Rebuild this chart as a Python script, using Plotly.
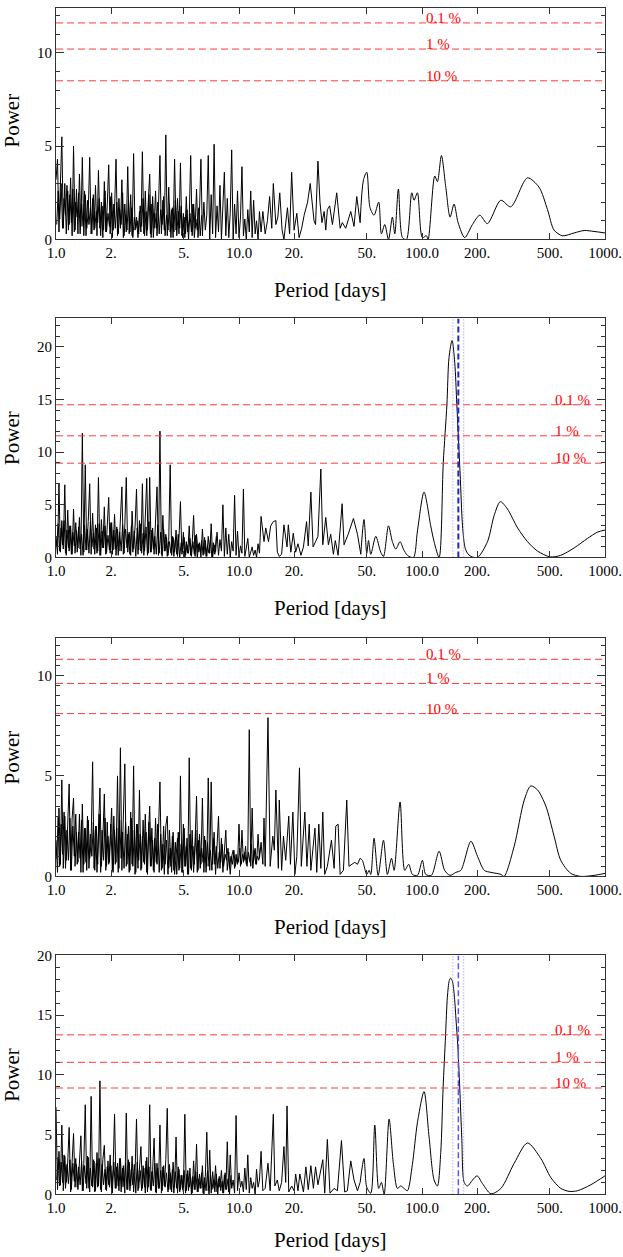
import math
import plotly.graph_objects as go

# period grid (days) for the short-period, noisy part of every periodogram
noise_period = [
    1.000, 1.019, 1.038, 1.057, 1.076, 1.096, 1.117, 1.138, 1.159, 1.180,
    1.202, 1.225, 1.247, 1.271, 1.294, 1.318, 1.343, 1.368, 1.393, 1.419,
    1.445, 1.472, 1.500, 1.528, 1.556, 1.585, 1.614, 1.644, 1.675, 1.706,
    1.738, 1.770, 1.803, 1.837, 1.871, 1.905, 1.941, 1.977, 2.014, 2.051,
    2.089, 2.128, 2.168, 2.208, 2.249, 2.291, 2.333, 2.377, 2.421, 2.466,
    2.512, 2.559, 2.606, 2.655, 2.704, 2.754, 2.805, 2.858, 2.911, 2.965,
    3.020, 3.076, 3.133, 3.192, 3.251, 3.311, 3.373, 3.436, 3.499, 3.565,
    3.631, 3.698, 3.767, 3.837, 3.908, 3.981, 4.055, 4.130, 4.207, 4.285,
    4.365, 4.446, 4.529, 4.613, 4.699, 4.786, 4.875, 4.966, 5.058, 5.152,
    5.248, 5.346, 5.445, 5.546, 5.649, 5.754, 5.861, 5.970, 6.081, 6.194,
    6.310, 6.427, 6.546, 6.668, 6.792, 6.918, 7.047, 7.178, 7.311, 7.447,
    7.586, 7.727, 7.870, 8.017, 8.166, 8.318, 8.472, 8.630, 8.790, 8.954,
    9.120, 9.290, 9.462, 9.638, 9.817, 10.00, 10.19, 10.38, 10.57, 10.76,
    10.96, 11.17, 11.38, 11.59, 11.80, 12.02, 12.25, 12.47, 12.71, 12.94,
]
# in-between periods, for the dense background of the forest
noise_period_b = [
    1.009, 1.028, 1.048, 1.067, 1.086, 1.107, 1.127, 1.148, 1.169, 1.191,
    1.213, 1.236, 1.259, 1.282, 1.306, 1.330, 1.355, 1.380, 1.406, 1.432,
    1.459, 1.486, 1.514, 1.542, 1.570, 1.600, 1.629, 1.660, 1.690, 1.722,
    1.754, 1.786, 1.820, 1.854, 1.888, 1.923, 1.959, 1.995, 2.032, 2.070,
    2.109, 2.148, 2.188, 2.228, 2.270, 2.312, 2.355, 2.399, 2.443, 2.489,
    2.535, 2.582, 2.630, 2.679, 2.729, 2.780, 2.831, 2.884, 2.938, 2.992,
    3.048, 3.105, 3.162, 3.221, 3.281, 3.342, 3.404, 3.467, 3.532, 3.597,
    3.664, 3.733, 3.802, 3.873, 3.945, 4.018, 4.093, 4.169, 4.246, 4.325,
    4.406, 4.487, 4.571, 4.656, 4.742, 4.830, 4.920, 5.012, 5.105, 5.200,
    5.297, 5.395, 5.495, 5.598, 5.702, 5.807, 5.916, 6.026, 6.138, 6.252,
    6.368, 6.486, 6.607, 6.730, 6.855, 6.982, 7.112, 7.244, 7.379, 7.516,
    7.656, 7.798, 7.943, 8.091, 8.241, 8.395, 8.551, 8.710, 8.872, 9.036,
    9.204, 9.376, 9.550, 9.727, 9.908, 10.09, 10.28, 10.47, 10.67, 10.86,
    11.06, 11.27, 11.48, 11.69, 11.91, 12.13, 12.36, 12.59, 12.82, 13.06,
]

# ---- panel 1 ----
p1_noise = [
    3.2, 4.3, 0.4, 2.8, 5.5, 0.6, 3.0, 0.3, 2.6, 0.8,
    3.3, 0.2, 5.0, 0.5, 2.7, 0.3, 3.5, 0.7, 4.4, 0.2,
    2.4, 0.6, 1.4, 4.4, 0.3, 2.2, 0.5, 2.9, 0.2, 3.7,
    0.6, 2.0, 0.1, 3.1, 0.4, 1.8, 4.0, 0.3, 2.5, 0.5,
    1.6, 4.3, 0.2, 2.2, 0.6, 3.2, 0.1, 1.9, 0.4, 3.9,
    0.3, 2.4, 0.2, 4.6, 0.5, 1.2, 0.1, 1.5, 0.4, 4.7,
    0.3, 2.6, 0.2, 2.0, 3.5, 0.1, 2.3, 0.6, 2.6, 0.2,
    1.7, 4.5, 0.3, 2.1, 0.5, 5.6, 0.2, 2.8, 0.4, 1.6,
    0.1, 4.3, 0.5, 2.2, 0.3, 4.1, 0.2, 1.4, 0.1, 2.3,
    0.4, 1.1, 4.5, 0.2, 1.9, 0.6, 2.7, 0.1, 1.5, 4.3,
    0.2, 2.0, 0.5, 1.3, 4.5, 0.0, 2.4, 0.3, 5.1, 0.1,
    1.8, 0.4, 2.9, 0.0, 1.6, 3.6, 0.2, 2.2, 0.1, 1.4,
    4.8, 0.0, 1.9, 0.3, 2.6, 0.1, 1.2, 3.9, 0.2, 1.1,
    0.0, 1.6, 0.4, 2.6, 0.1, 2.1, 0.3, 1.0, 0.0, 1.5,
]
p1_noise_b = [
    0.8, 2.6, 1.1, 3.0, 0.6, 2.2, 1.3, 2.9, 0.5, 2.4,
    0.9, 2.7, 0.4, 2.0, 1.2, 2.5, 0.3, 1.9, 0.7, 2.6,
    0.2, 2.1, 0.8, 1.7, 0.3, 2.4, 0.6, 1.5, 0.9, 2.2,
    0.2, 1.8, 0.5, 2.6, 0.4, 1.4, 0.7, 2.3, 0.1, 1.9,
    0.6, 2.0, 0.3, 1.6, 0.8, 2.5, 0.2, 1.3, 0.5, 2.1,
    0.4, 1.7, 0.1, 1.2, 0.6, 1.0, 0.3, 1.8, 0.7, 2.2,
    0.2, 1.5, 0.5, 2.4, 0.3, 1.9, 0.1, 1.4, 0.6, 2.0,
    0.3, 1.6, 0.8, 2.3, 0.2, 1.3, 0.5, 1.9, 0.1, 1.7,
    0.4, 2.1, 0.2, 1.5, 0.6, 1.8, 0.1, 1.2, 0.3, 1.6,
    0.0, 1.4, 0.4, 1.9, 0.1, 1.1, 0.5, 1.7, 0.2, 1.3,
]
p1_mid = [
    (13.2, 0.4), (13.5, 1.5), (13.9, 0.3), (14.3, 1.0), (14.7, 2.3), (15.1, 0.6),
    (15.4, 3.0), (15.9, 0.8), (16.3, 1.2), (16.7, 2.5), (17.2, 0.5), (17.6, 0.0),
    (18.4, 1.7), (18.9, 0.3), (19.4, 3.6), (20.0, 0.5), (20.7, 1.4), (21.3, 0.1),
    (22.0, 0.6), (22.7, 1.3), (23.7, 2.0), (24.5, 3.0), (25.7, 1.0), (26.2, 0.8),
    (27.0, 4.2), (27.7, 2.0), (28.4, 0.9), (29.2, 1.5), (29.8, 0.5), (30.4, 1.6),
    (31.3, 1.8), (32.4, 0.8), (34.2, 2.5), (35.7, 0.6), (36.7, 0.9), (38.3, 0.6),
    (39.5, 1.1), (40.8, 1.5), (42.5, 0.7), (44.0, 2.3), (45.9, 0.9),
]
p1_long = [
    (45.9, 0.9), (47.9, 3.2), (49.9, 3.6), (52.0, 1.7), (54.7, 1.3), (58.0, 2.0),
    (60.0, 0.3), (62.6, 0.8), (65.6, 0.0), (68.9, 1.2), (71.0, 0.3), (74.3, 2.7),
    (78.2, 0.1), (82.2, 0.0), (87.9, 2.5), (90.5, 2.1), (94.4, 2.5), (100.5, 0.1),
    (105.7, 0.2), (108.0, 0.0), (117.4, 3.4), (121.4, 3.1), (127.7, 4.5), (134.9, 2.8),
    (142.4, 1.2), (149.7, 1.9), (157.5, 0.9), (171.2, 0.1), (188.6, 0.8), (206.8, 1.3),
    (227.8, 0.85), (269.4, 2.1), (305.5, 1.75), (376.8, 3.3), (436.0, 2.8), (485.0, 1.6),
    (527.0, 0.5), (585.0, 0.2), (678.0, 0.35), (769.0, 0.48), (871.0, 0.43), (1000.0, 0.35),
]
p1_sig = [11.6, 10.2, 8.5]

# ---- panel 2 ----
p2_noise = [
    2.0, 0.3, 7.0, 0.5, 3.5, 0.8, 6.9, 0.2, 4.5, 0.6,
    3.0, 0.3, 4.6, 0.4, 2.6, 0.9, 3.8, 0.2, 11.8, 0.5,
    8.8, 0.7, 3.4, 7.0, 0.3, 4.2, 0.8, 3.1, 0.4, 7.6,
    0.2, 3.6, 0.9, 4.8, 0.3, 2.9, 5.7, 0.4, 3.3, 0.7,
    4.1, 0.2, 2.7, 0.6, 3.9, 6.7, 0.3, 3.0, 7.6, 0.5,
    2.4, 0.2, 4.4, 0.8, 2.9, 6.5, 0.3, 3.5, 0.6, 7.0,
    0.2, 3.2, 7.5, 0.4, 7.6, 0.5, 2.8, 0.3, 4.2, 6.7,
    0.2, 12.0, 0.3, 4.0, 0.6, 2.2, 0.1, 1.6, 8.8, 0.2,
    1.9, 0.5, 2.6, 0.1, 1.8, 5.3, 0.3, 2.4, 0.0, 1.5,
    0.4, 3.0, 0.2, 1.3, 4.0, 0.1, 2.2, 0.5, 1.4, 0.0,
    2.7, 0.3, 1.6, 0.1, 2.0, 0.4, 3.2, 0.0, 1.2, 0.5,
    2.4, 0.2, 1.7, 0.6, 5.0, 0.1, 2.8, 0.3, 2.2, 0.0,
    1.5, 0.6, 5.9, 0.2, 2.5, 0.0, 1.1, 0.4, 6.5, 0.1,
    0.9, 1.8, 0.0, 0.6, 1.0, 0.2, 0.7, 0.0, 1.3, 0.4,
]
p2_noise_b = [
    1.0, 3.2, 0.6, 2.8, 1.2, 3.5, 0.4, 2.6, 0.9, 3.0,
    0.3, 2.4, 1.1, 3.3, 0.5, 2.9, 0.8, 2.2, 0.2, 3.1,
    0.7, 2.7, 0.4, 3.4, 1.0, 2.3, 0.3, 2.8, 0.6, 3.2,
    0.2, 2.5, 0.9, 3.0, 0.4, 2.1, 0.7, 3.3, 0.3, 2.6,
    0.8, 2.9, 0.2, 2.4, 0.6, 3.1, 0.4, 2.7, 0.9, 2.2,
    0.3, 3.0, 0.5, 2.5, 0.1, 2.8, 0.7, 3.2, 0.4, 2.3,
    0.6, 2.9, 0.2, 3.4, 0.5, 2.6, 0.8, 2.0, 0.3, 3.1,
    0.4, 2.4, 0.1, 2.7, 0.6, 1.9, 0.2, 1.5, 0.4, 2.0,
    0.1, 1.7, 0.3, 2.2, 0.0, 1.4, 0.5, 1.9, 0.2, 1.2,
    0.4, 1.8, 0.1, 1.5, 0.3, 2.1, 0.0, 1.3, 0.5, 1.6,
    0.2, 1.9, 0.1, 1.1, 0.4, 1.7, 0.0, 1.4, 0.3, 2.0,
]
p2_mid = [
    (13.2, 3.9), (13.7, 1.5), (14.0, 2.8), (14.5, 1.5), (14.9, 3.0), (15.4, 3.4),
    (15.9, 3.5), (16.2, 0.5), (16.6, 0.1), (17.1, 0.3), (17.6, 3.1), (18.3, 1.0),
    (18.6, 3.1), (19.2, 0.5), (19.8, 2.3), (20.4, 0.5), (21.0, 1.3), (21.8, 0.2),
    (22.5, 1.0), (23.4, 3.4), (23.9, 1.1), (24.7, 6.2), (25.4, 1.0), (26.2, 1.5),
    (27.0, 2.0), (28.0, 8.4), (28.7, 1.2), (29.8, 3.8), (30.8, 1.2), (31.7, 2.2),
    (32.8, 0.3), (33.6, 1.6), (34.8, 0.2), (36.6, 5.1), (37.5, 1.2), (39.5, 2.2),
    (42.2, 3.7), (44.4, 2.2), (46.3, 0.3),
]
p2_long = [
    (46.3, 0.3), (48.2, 3.6), (49.9, 0.4), (51.0, 1.6), (52.5, 0.3), (55.9, 2.0),
    (59.5, 0.5), (61.6, 0.1), (65.6, 3.0), (68.9, 1.5), (71.9, 0.8), (75.9, 1.5),
    (79.1, 0.8), (83.2, 0.2), (89.8, 0.0), (94.4, 2.5), (102.6, 6.2), (111.6, 3.0),
    (116.4, 1.5), (124.0, 0.0), (130.7, 9.0), (136.8, 14.5), (140.5, 19.0), (146.0, 20.6),
    (151.0, 18.5), (155.0, 14.5), (161.5, 8.0), (166.5, 3.0), (171.5, 1.0), (177.0, 0.4),
    (185.0, 0.1), (201.0, 0.0), (228.0, 1.5), (248.0, 4.0), (268.0, 5.3), (293.0, 4.6),
    (333.0, 2.8), (377.0, 1.5), (428.0, 0.6), (502.0, 0.05), (573.0, 0.2), (678.0, 0.9),
    (802.0, 1.8), (909.0, 2.4), (1000.0, 2.6),
]
p2_sig = [14.5, 11.55, 8.95]

# ---- panel 3 ----
p3_noise = [
    1.8, 0.2, 3.4, 0.6, 4.8, 0.4, 3.0, 0.8, 2.6, 4.6,
    0.3, 2.9, 3.9, 0.5, 2.2, 0.7, 3.1, 0.2, 3.6, 0.6,
    2.4, 0.3, 2.8, 0.9, 1.7, 5.7, 0.4, 2.5, 0.2, 3.0,
    4.4, 0.5, 1.9, 4.1, 0.3, 2.7, 0.6, 1.8, 3.4, 0.2,
    2.3, 0.7, 5.0, 0.4, 6.4, 0.3, 2.9, 5.6, 0.5, 2.1,
    0.2, 3.2, 0.6, 5.5, 0.1, 2.6, 0.4, 4.3, 0.3, 2.0,
    0.7, 3.1, 0.2, 2.4, 3.5, 0.5, 1.8, 0.2, 2.9, 0.6,
    2.2, 4.7, 0.3, 1.6, 0.1, 2.5, 3.0, 0.4, 1.4, 0.2,
    2.2, 0.1, 0.9, 1.9, 0.3, 5.0, 0.2, 2.6, 0.5, 1.5,
    0.1, 5.9, 0.4, 2.3, 0.2, 1.7, 4.0, 0.3, 2.1, 0.6,
    3.9, 0.2, 1.8, 0.5, 4.9, 0.3, 4.7, 0.6, 2.2, 0.1,
    1.5, 3.0, 0.4, 1.9, 0.2, 1.4, 2.3, 0.3, 1.2, 0.1,
    1.0, 1.3, 0.4, 1.1, 0.6, 2.6, 0.5, 2.3, 0.7, 1.2,
    0.6, 1.0, 7.3, 0.5, 3.4, 0.8, 1.4, 0.6, 2.1, 0.9,
]
p3_noise_b = [
    0.9, 3.0, 0.5, 2.6, 1.1, 3.2, 0.4, 2.3, 0.8, 2.9,
    0.3, 2.5, 1.0, 3.1, 0.6, 2.2, 0.9, 2.8, 0.2, 2.4,
    0.7, 3.0, 0.4, 2.1, 1.0, 2.7, 0.3, 2.5, 0.6, 3.1,
    0.2, 2.3, 0.8, 2.9, 0.5, 2.0, 0.7, 2.6, 0.3, 3.0,
    0.6, 2.4, 0.2, 2.8, 0.9, 2.2, 0.4, 2.7, 0.6, 2.5,
    0.3, 2.9, 0.5, 2.3, 0.2, 2.6, 0.8, 2.1, 0.4, 2.8,
    0.6, 2.2, 0.1, 2.7, 0.5, 2.4, 0.3, 1.9, 0.7, 2.6,
    0.2, 2.1, 0.4, 2.5, 0.6, 1.8, 0.1, 2.3, 0.5, 2.0,
    0.3, 1.7, 0.1, 2.2, 0.4, 1.6, 0.2, 2.4, 0.5, 1.9,
    0.1, 2.1, 0.3, 1.5, 0.6, 2.3, 0.2, 1.8, 0.4, 1.4,
    0.7, 2.0, 0.2, 1.7, 0.5, 1.3, 0.3, 1.9, 0.6, 1.5,
    0.4, 1.2, 0.7, 1.6, 0.5, 1.1, 0.8, 1.4, 0.4, 1.0,
    0.6, 1.3, 0.5, 0.9, 0.7, 1.4, 0.6, 1.1, 0.8, 1.5,
    0.5, 1.2, 0.7, 1.6, 0.4, 1.3, 0.6, 1.0, 0.8, 1.4,
]
p3_mid = [
    (13.2, 1.7), (13.5, 0.6), (13.7, 2.9), (13.9, 0.5), (14.4, 7.9), (14.8, 0.5),
    (15.3, 2.0), (15.6, 1.3), (15.9, 4.3), (16.4, 0.4), (16.6, 3.8), (17.1, 0.3),
    (17.5, 2.0), (18.0, 0.8), (18.7, 3.0), (19.1, 0.6), (19.7, 3.2), (20.2, 0.1),
    (20.7, 1.0), (21.4, 5.4), (21.9, 0.5), (22.9, 3.2), (23.5, 0.5), (24.2, 2.6),
    (24.7, 0.3), (26.0, 2.4), (26.6, 0.2), (27.3, 2.6), (28.0, 0.4), (28.7, 3.2),
    (29.4, 0.1), (30.4, 0.5), (32.0, 1.8), (33.1, 0.4), (33.8, 2.5), (34.8, 2.6),
    (35.7, 0.1), (37.2, 0.3), (38.8, 3.8), (39.9, 0.5), (41.6, 0.6), (42.9, 0.7),
    (44.4, 0.6), (45.9, 0.9),
]
p3_long = [
    (45.9, 0.9), (47.2, 0.8), (49.9, 0.1), (51.4, 0.3), (52.5, 0.1), (54.7, 1.9),
    (57.6, 0.05), (61.6, 1.8), (64.7, 0.1), (68.1, 0.9), (70.4, 0.3), (75.9, 3.7),
    (80.5, 0.3), (84.6, 0.6), (88.6, 0.1), (94.4, 0.05), (100.5, 0.8), (104.8, 0.1),
    (112.5, 0.05), (124.0, 1.25), (133.0, 0.3), (142.3, 0.05), (153.0, 0.2), (163.0, 0.3),
    (185.0, 1.75), (201.0, 1.0), (219.0, 0.3), (238.0, 0.2), (270.0, 0.1), (281.0, 0.0),
    (319.0, 1.5), (362.0, 3.8), (393.0, 4.5), (428.0, 4.3), (475.0, 3.5), (527.0, 2.0),
    (573.0, 0.8), (650.0, 0.15), (737.0, 0.0), (871.0, 0.05), (1000.0, 0.15),
]
p3_sig = [10.8, 9.6, 8.1]

# ---- panel 4 ----
p4_noise = [
    7.3, 0.4, 3.6, 0.8, 5.8, 0.3, 3.2, 1.0, 2.7, 5.6,
    0.2, 3.0, 5.1, 0.6, 2.5, 0.4, 3.4, 4.9, 0.3, 2.6,
    7.5, 0.5, 3.1, 0.2, 8.2, 0.6, 2.8, 0.3, 3.5, 0.7,
    9.5, 0.2, 2.9, 4.1, 0.4, 2.3, 0.8, 3.3, 0.2, 2.1,
    6.7, 0.5, 2.6, 0.3, 3.0, 0.6, 2.4, 0.1, 6.8, 0.4,
    2.7, 0.7, 3.2, 0.2, 1.9, 6.3, 0.3, 2.5, 4.0, 0.5,
    2.2, 0.1, 3.1, 0.6, 7.5, 0.3, 2.0, 4.7, 0.2, 2.6,
    0.5, 5.8, 0.1, 2.3, 0.7, 2.9, 7.2, 0.4, 1.8, 0.2,
    2.7, 0.6, 4.8, 0.1, 2.1, 0.4, 1.6, 0.2, 6.7, 0.3,
    2.0, 0.6, 1.4, 0.1, 2.8, 0.4, 4.2, 0.2, 1.7, 0.5,
    2.4, 0.0, 1.5, 5.2, 0.3, 3.7, 0.1, 1.9, 0.5, 2.4,
    0.2, 1.3, 0.6, 2.0, 0.1, 1.6, 0.4, 4.4, 0.2, 3.3,
    0.5, 1.2, 0.1, 6.6, 0.3, 1.8, 0.6, 1.1, 0.2, 2.2,
    0.4, 3.3, 0.1, 1.4, 0.5, 1.0, 0.0, 2.1, 0.6, 1.2,
]
p4_noise_b = [
    1.2, 3.1, 0.7, 2.7, 1.0, 3.3, 0.5, 2.5, 0.9, 2.9,
    0.4, 2.6, 1.1, 3.0, 0.6, 2.3, 0.8, 2.8, 0.3, 2.4,
    0.9, 3.2, 0.5, 2.2, 0.7, 2.9, 0.2, 2.6, 0.6, 3.0,
    0.4, 2.5, 0.8, 2.1, 0.3, 2.8, 0.6, 2.4, 0.1, 2.7,
    0.5, 2.3, 0.7, 3.0, 0.2, 2.2, 0.6, 2.6, 0.4, 2.9,
    0.3, 2.1, 0.8, 2.5, 0.1, 2.7, 0.5, 2.0, 0.3, 2.4,
    0.6, 2.8, 0.2, 2.3, 0.4, 1.9, 0.7, 2.6, 0.1, 2.2,
    0.5, 2.0, 0.3, 2.4, 0.6, 1.8, 0.2, 2.5, 0.4, 2.1,
    0.1, 1.9, 0.5, 2.3, 0.2, 1.6, 0.4, 2.0, 0.1, 1.7,
    0.3, 2.2, 0.0, 1.5, 0.4, 1.9, 0.2, 1.3, 0.5, 1.8,
    0.1, 1.4, 0.3, 2.0, 0.0, 1.6, 0.4, 1.2, 0.2, 1.7,
    0.0, 1.5, 0.3, 1.1, 0.1, 1.8, 0.4, 1.3, 0.0, 1.6,
]
p4_mid = [
    (13.2, 3.6), (13.5, 0.3), (13.9, 0.5), (14.4, 2.6), (14.8, 0.3), (15.4, 6.7),
    (15.7, 0.7), (16.2, 1.2), (16.6, 0.3), (17.1, 1.0), (17.6, 4.0), (18.0, 1.0),
    (18.3, 7.4), (18.7, 0.2), (19.4, 0.7), (20.0, 0.3), (20.4, 1.7), (21.0, 0.3),
    (21.5, 1.7), (22.5, 0.2), (23.2, 2.3), (23.9, 0.4), (24.7, 2.4), (25.5, 0.5),
    (26.2, 2.3), (27.0, 0.8), (28.0, 2.1), (28.7, 2.9), (29.4, 0.1), (30.4, 4.6),
    (31.4, 0.1), (33.1, 0.5), (34.5, 0.3), (36.3, 4.5), (37.8, 0.2), (39.1, 0.3),
    (40.8, 2.8), (42.5, 1.2), (44.4, 0.3), (45.9, 1.0),
]
p4_long = [
    (45.9, 1.0), (48.2, 3.0), (49.9, 0.6), (52.5, 0.1), (55.2, 5.8), (58.0, 0.5),
    (60.0, 1.0), (62.1, 0.0), (66.1, 6.3), (69.8, 2.5), (73.4, 0.5), (76.5, 0.7),
    (79.8, 0.5), (83.2, 0.3), (88.6, 2.5), (94.4, 6.0), (102.6, 8.6), (109.3, 4.8),
    (116.4, 1.2), (121.4, 0.7), (126.6, 3.5), (130.4, 8.9), (134.5, 13.3), (137.6, 16.5),
    (141.0, 17.9), (143.5, 18.1), (146.8, 17.8), (150.4, 16.5), (153.6, 14.5), (156.8, 12.5),
    (160.8, 8.9), (165.0, 4.7), (170.0, 1.0), (177.0, 0.7), (189.0, 1.2), (200.0, 1.55),
    (214.0, 0.9), (238.0, 0.05), (270.0, 0.5), (319.0, 2.6), (377.0, 4.3), (446.0, 3.0),
    (506.0, 1.4), (573.0, 0.5), (636.0, 0.25), (707.0, 0.3), (836.0, 0.8), (1000.0, 1.55),
]
p4_sig = [13.35, 11.05, 8.9]

sig_labels = ["0.1 %", "1 %", "10 %"]

# fitted period (dashed) and its limits (dotted), panels 2 and 4
fit_period = [158.0]
fit_limits = [147.5, 169.0]

x_tickvals = [1, 2, 5, 10, 20, 50, 100, 200, 500, 1000]
x_ticktext = ["1.0", "2.", "5.", "10.0", "20.", "50.", "100.0", "200.", "500.", "1000."]

W, H = 623, 1257
L, R = 56, 605
SERIF = "Liberation Serif"
FRAME = "#333333"
RED = "#ff3a3a"

# the captured page comes out shifted down ~7.5px and squeezed ~1.3% vertically,
# so vertical placements (given as target pixels) are pre-corrected here
def fy(px):
    return max(0.0, (px - 7.5) / 0.9874)

# top/bottom: target pixel rows of each frame; ppu: pixels per power unit
panels = [
    dict(noise=p1_noise, noise_b=p1_noise_b, mid=p1_mid, long=p1_long, sig=p1_sig,
         top=1, bottom=239, ppu=18.67, minor=1, label_at=103, fit=None),
    dict(noise=p2_noise, noise_b=p2_noise_b, mid=p2_mid, long=p2_long, sig=p2_sig,
         top=318, bottom=557, ppu=10.53, minor=1, label_at=519, fit=("#2424c8", 2)),
    dict(noise=p3_noise, noise_b=p3_noise_b, mid=p3_mid, long=p3_long, sig=p3_sig,
         top=638, bottom=876, ppu=20.1, minor=0.5, label_at=103, fit=None),
    dict(noise=p4_noise, noise_b=p4_noise_b, mid=p4_mid, long=p4_long, sig=p4_sig,
         top=955, bottom=1194, ppu=11.95, minor=1, label_at=519, fit=("#5555ff", 1.5)),
]

fig = go.Figure()
layout = {}

for i, p in enumerate(panels, start=1):
    sfx = "" if i == 1 else str(i)
    xa, ya = "x" + sfx, "y" + sfx

    top_px = max(p["top"], 7.5)
    ymax = (p["bottom"] - top_px) / p["ppu"]

    fig.add_trace(go.Scatter(x=noise_period_b[:len(p["noise_b"])], y=p["noise_b"],
                             mode="lines", line=dict(color="black", width=1),
                             xaxis=xa, yaxis=ya, hoverinfo="skip"))
    fig.add_trace(go.Scatter(x=noise_period, y=p["noise"], mode="lines",
                             line=dict(color="black", width=1),
                             xaxis=xa, yaxis=ya, hoverinfo="skip"))
    mid_x = noise_period[-1:] + [t[0] for t in p["mid"]]
    mid_y = p["noise"][-1:] + [t[1] for t in p["mid"]]
    fig.add_trace(go.Scatter(x=mid_x, y=mid_y, mode="lines",
                             line=dict(color="black", width=1),
                             xaxis=xa, yaxis=ya, hoverinfo="skip"))
    fig.add_trace(go.Scatter(x=[t[0] for t in p["long"]], y=[t[1] for t in p["long"]],
                             mode="lines",
                             line=dict(color="black", width=1, shape="spline", smoothing=0.8),
                             xaxis=xa, yaxis=ya, hoverinfo="skip"))

    for lvl, lab in zip(p["sig"], sig_labels):
        fig.add_trace(go.Scatter(x=[1, 1000], y=[lvl, lvl], mode="lines",
                                 line=dict(color=RED, width=1, dash="7px,4px"),
                                 xaxis=xa, yaxis=ya, hoverinfo="skip"))
        fig.add_annotation(x=math.log10(p["label_at"]), y=lvl, xref=xa, yref=ya,
                           text=lab, showarrow=False, xanchor="left", yanchor="bottom",
                           yshift=-5, font=dict(family=SERIF, size=15, color="red"))

    if p["fit"]:
        col, wid = p["fit"]
        for lim in fit_limits:
            fig.add_trace(go.Scatter(x=[lim, lim], y=[0, ymax], mode="lines",
                                     line=dict(color="#8c8cff", width=1, dash="1px,2px"),
                                     xaxis=xa, yaxis=ya, hoverinfo="skip"))
        for fp in fit_period:
            fig.add_trace(go.Scatter(x=[fp, fp], y=[0, ymax], mode="lines",
                                     line=dict(color=col, width=wid, dash="6px,3px"),
                                     xaxis=xa, yaxis=ya, hoverinfo="skip"))

    dom = [1 - fy(p["bottom"]) / H, 1 - fy(top_px) / H]
    layout["xaxis" + sfx] = dict(
        type="log", range=[0, 3], domain=[0, 1], anchor=ya,
        tickvals=x_tickvals, ticktext=x_ticktext,
        ticks="inside", ticklen=6, tickcolor=FRAME, mirror="allticks",
        showline=True, linecolor=FRAME, linewidth=1,
        showgrid=False, zeroline=False,
        tickfont=dict(family=SERIF, size=15, color="black"),
    )
    layout["yaxis" + sfx] = dict(
        range=[0, ymax], domain=dom, anchor=xa,
        tick0=0, dtick=5, ticks="inside", ticklen=8, tickcolor=FRAME,
        minor=dict(ticks="inside", ticklen=4, dtick=p["minor"], tick0=0,
                   tickcolor=FRAME, showgrid=False),
        mirror="allticks", showline=True, linecolor=FRAME, linewidth=1,
        showgrid=False, zeroline=False,
        tickfont=dict(family=SERIF, size=15, color="black"),
    )

    # axis titles
    fig.add_annotation(x=(12 - L) / (R - L), y=1 - fy((p["top"] + p["bottom"]) / 2) / H,
                       xref="paper", yref="paper", xanchor="center", yanchor="middle",
                       text="Power", textangle=-90, showarrow=False,
                       font=dict(family=SERIF, size=21, color="black"))
    fig.add_annotation(x=(330 - L) / (R - L), y=1 - min(fy(p["bottom"] + 51), H - 9) / H,
                       xref="paper", yref="paper", xanchor="center", yanchor="middle",
                       text="Period [days]", showarrow=False,
                       font=dict(family=SERIF, size=21, color="black"))

fig.update_layout(
    width=W, height=H,
    margin=dict(l=L, r=W - R, t=0, b=0),
    paper_bgcolor="white", plot_bgcolor="white",
    showlegend=False,
    **layout,
)

# pin the figure to the window corner (the page body has a default margin)
pin = ("var gd=document.getElementById('{plot_id}');"
       "gd.style.position='fixed';gd.style.top='0px';gd.style.left='0px';"
       "document.body.style.margin='0px';")
fig.write_html("out.html", config={"displayModeBar": False}, post_script=pin)
